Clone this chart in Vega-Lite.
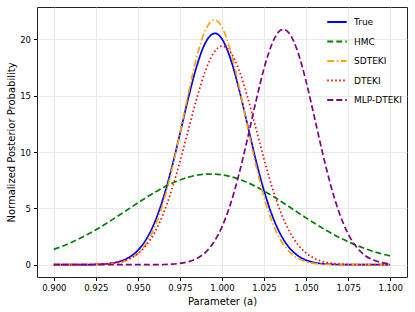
{
"$schema":"https://vega.github.io/schema/vega-lite/v6.json",
"width":370,"height":270,
"autosize":{"type":"none"},
"padding":{"left":37,"top":7,"right":8,"bottom":35},
"config":{"font":"DejaVu Sans","view":{"stroke":"#222","strokeWidth":1},
"axis":{"labelFont":"DejaVu Sans","titleFont":"DejaVu Sans","labelColor":"#000","titleColor":"#000","labelFontSize":8.5,"titleFontSize":10,"titleFontWeight":"normal","tickColor":"#000","domainColor":"#000","tickSize":3.5,"gridColor":"#e3e3e3","gridWidth":0.8}},
"datasets":{"d":[
{"x":0.900,"y":0.0001,"m":"True"},{"x":0.905,"y":0.0004,"m":"True"},{"x":0.910,"y":0.0012,"m":"True"},{"x":0.915,"y":0.0036,"m":"True"},{"x":0.920,"y":0.0101,"m":"True"},{"x":0.925,"y":0.027,"m":"True"},{"x":0.930,"y":0.066,"m":"True"},{"x":0.935,"y":0.154,"m":"True"},{"x":0.940,"y":0.333,"m":"True"},{"x":0.945,"y":0.675,"m":"True"},{"x":0.950,"y":1.280,"m":"True"},{"x":0.955,"y":2.272,"m":"True"},{"x":0.960,"y":3.777,"m":"True"},{"x":0.965,"y":5.871,"m":"True"},{"x":0.970,"y":8.540,"m":"True"},{"x":0.975,"y":11.62,"m":"True"},{"x":0.980,"y":14.80,"m":"True"},{"x":0.985,"y":17.63,"m":"True"},{"x":0.990,"y":19.66,"m":"True"},{"x":0.995,"y":20.51,"m":"True"},{"x":0.996,"y":20.53,"m":"True"},{"x":1.000,"y":20.03,"m":"True"},{"x":1.005,"y":18.30,"m":"True"},{"x":1.010,"y":15.65,"m":"True"},{"x":1.015,"y":12.52,"m":"True"},{"x":1.020,"y":9.370,"m":"True"},{"x":1.025,"y":6.564,"m":"True"},{"x":1.030,"y":4.301,"m":"True"},{"x":1.035,"y":2.638,"m":"True"},{"x":1.040,"y":1.514,"m":"True"},{"x":1.045,"y":0.813,"m":"True"},{"x":1.050,"y":0.409,"m":"True"},{"x":1.055,"y":0.192,"m":"True"},{"x":1.060,"y":0.085,"m":"True"},{"x":1.065,"y":0.035,"m":"True"},{"x":1.070,"y":0.013,"m":"True"},{"x":1.075,"y":0.005,"m":"True"},{"x":1.080,"y":0.0016,"m":"True"},{"x":1.085,"y":0.0005,"m":"True"},{"x":1.090,"y":0.0001,"m":"True"},{"x":1.095,"y":0.0,"m":"True"},{"x":1.100,"y":0.0,"m":"True"},
{"x":0.900,"y":1.358,"m":"HMC"},{"x":0.905,"y":1.635,"m":"HMC"},{"x":0.910,"y":1.949,"m":"HMC"},{"x":0.915,"y":2.300,"m":"HMC"},{"x":0.920,"y":2.685,"m":"HMC"},{"x":0.925,"y":3.104,"m":"HMC"},{"x":0.930,"y":3.551,"m":"HMC"},{"x":0.935,"y":4.022,"m":"HMC"},{"x":0.940,"y":4.507,"m":"HMC"},{"x":0.945,"y":5.001,"m":"HMC"},{"x":0.950,"y":5.492,"m":"HMC"},{"x":0.955,"y":5.970,"m":"HMC"},{"x":0.960,"y":6.423,"m":"HMC"},{"x":0.965,"y":6.840,"m":"HMC"},{"x":0.970,"y":7.209,"m":"HMC"},{"x":0.975,"y":7.522,"m":"HMC"},{"x":0.980,"y":7.768,"m":"HMC"},{"x":0.985,"y":7.940,"m":"HMC"},{"x":0.990,"y":8.033,"m":"HMC"},{"x":0.995,"y":8.045,"m":"HMC"},{"x":1.000,"y":7.974,"m":"HMC"},{"x":1.005,"y":7.824,"m":"HMC"},{"x":1.010,"y":7.598,"m":"HMC"},{"x":1.015,"y":7.303,"m":"HMC"},{"x":1.020,"y":6.948,"m":"HMC"},{"x":1.025,"y":6.544,"m":"HMC"},{"x":1.030,"y":6.099,"m":"HMC"},{"x":1.035,"y":5.628,"m":"HMC"},{"x":1.040,"y":5.139,"m":"HMC"},{"x":1.045,"y":4.646,"m":"HMC"},{"x":1.050,"y":4.156,"m":"HMC"},{"x":1.055,"y":3.680,"m":"HMC"},{"x":1.060,"y":3.226,"m":"HMC"},{"x":1.065,"y":2.799,"m":"HMC"},{"x":1.070,"y":2.404,"m":"HMC"},{"x":1.075,"y":2.044,"m":"HMC"},{"x":1.080,"y":1.719,"m":"HMC"},{"x":1.085,"y":1.432,"m":"HMC"},{"x":1.090,"y":1.180,"m":"HMC"},{"x":1.095,"y":0.963,"m":"HMC"},{"x":1.100,"y":0.778,"m":"HMC"},
{"x":0.900,"y":0.0,"m":"SDTEKI"},{"x":0.905,"y":0.0001,"m":"SDTEKI"},{"x":0.910,"y":0.0004,"m":"SDTEKI"},{"x":0.915,"y":0.0015,"m":"SDTEKI"},{"x":0.920,"y":0.0047,"m":"SDTEKI"},{"x":0.925,"y":0.0138,"m":"SDTEKI"},{"x":0.930,"y":0.0376,"m":"SDTEKI"},{"x":0.935,"y":0.0958,"m":"SDTEKI"},{"x":0.940,"y":0.226,"m":"SDTEKI"},{"x":0.945,"y":0.496,"m":"SDTEKI"},{"x":0.950,"y":1.011,"m":"SDTEKI"},{"x":0.955,"y":1.912,"m":"SDTEKI"},{"x":0.960,"y":3.356,"m":"SDTEKI"},{"x":0.965,"y":5.474,"m":"SDTEKI"},{"x":0.970,"y":8.289,"m":"SDTEKI"},{"x":0.975,"y":11.65,"m":"SDTEKI"},{"x":0.980,"y":15.21,"m":"SDTEKI"},{"x":0.985,"y":18.45,"m":"SDTEKI"},{"x":0.990,"y":20.77,"m":"SDTEKI"},{"x":0.995,"y":21.71,"m":"SDTEKI"},{"x":0.9958,"y":21.72,"m":"SDTEKI"},{"x":1.000,"y":21.08,"m":"SDTEKI"},{"x":1.005,"y":19.00,"m":"SDTEKI"},{"x":1.010,"y":15.91,"m":"SDTEKI"},{"x":1.015,"y":12.37,"m":"SDTEKI"},{"x":1.020,"y":8.925,"m":"SDTEKI"},{"x":1.025,"y":5.984,"m":"SDTEKI"},{"x":1.030,"y":3.723,"m":"SDTEKI"},{"x":1.035,"y":2.152,"m":"SDTEKI"},{"x":1.040,"y":1.155,"m":"SDTEKI"},{"x":1.045,"y":0.576,"m":"SDTEKI"},{"x":1.050,"y":0.266,"m":"SDTEKI"},{"x":1.055,"y":0.114,"m":"SDTEKI"},{"x":1.060,"y":0.046,"m":"SDTEKI"},{"x":1.065,"y":0.017,"m":"SDTEKI"},{"x":1.070,"y":0.006,"m":"SDTEKI"},{"x":1.075,"y":0.0019,"m":"SDTEKI"},{"x":1.080,"y":0.0005,"m":"SDTEKI"},{"x":1.085,"y":0.0001,"m":"SDTEKI"},{"x":1.090,"y":0.0,"m":"SDTEKI"},{"x":1.095,"y":0.0,"m":"SDTEKI"},{"x":1.100,"y":0.0,"m":"SDTEKI"},
{"x":0.900,"y":0.0001,"m":"DTEKI"},{"x":0.905,"y":0.0004,"m":"DTEKI"},{"x":0.910,"y":0.0013,"m":"DTEKI"},{"x":0.915,"y":0.0036,"m":"DTEKI"},{"x":0.920,"y":0.0096,"m":"DTEKI"},{"x":0.925,"y":0.024,"m":"DTEKI"},{"x":0.930,"y":0.057,"m":"DTEKI"},{"x":0.935,"y":0.127,"m":"DTEKI"},{"x":0.940,"y":0.267,"m":"DTEKI"},{"x":0.945,"y":0.528,"m":"DTEKI"},{"x":0.950,"y":0.984,"m":"DTEKI"},{"x":0.955,"y":1.732,"m":"DTEKI"},{"x":0.960,"y":2.868,"m":"DTEKI"},{"x":0.965,"y":4.481,"m":"DTEKI"},{"x":0.970,"y":6.596,"m":"DTEKI"},{"x":0.975,"y":9.153,"m":"DTEKI"},{"x":0.980,"y":11.97,"m":"DTEKI"},{"x":0.985,"y":14.76,"m":"DTEKI"},{"x":0.990,"y":17.15,"m":"DTEKI"},{"x":0.995,"y":18.79,"m":"DTEKI"},{"x":1.000,"y":19.40,"m":"DTEKI"},{"x":1.005,"y":18.88,"m":"DTEKI"},{"x":1.010,"y":17.32,"m":"DTEKI"},{"x":1.015,"y":14.97,"m":"DTEKI"},{"x":1.020,"y":12.20,"m":"DTEKI"},{"x":1.025,"y":9.372,"m":"DTEKI"},{"x":1.030,"y":6.786,"m":"DTEKI"},{"x":1.035,"y":4.631,"m":"DTEKI"},{"x":1.040,"y":2.978,"m":"DTEKI"},{"x":1.045,"y":1.806,"m":"DTEKI"},{"x":1.050,"y":1.032,"m":"DTEKI"},{"x":1.055,"y":0.556,"m":"DTEKI"},{"x":1.060,"y":0.282,"m":"DTEKI"},{"x":1.065,"y":0.135,"m":"DTEKI"},{"x":1.070,"y":0.061,"m":"DTEKI"},{"x":1.075,"y":0.026,"m":"DTEKI"},{"x":1.080,"y":0.0104,"m":"DTEKI"},{"x":1.085,"y":0.0039,"m":"DTEKI"},{"x":1.090,"y":0.0014,"m":"DTEKI"},{"x":1.095,"y":0.0005,"m":"DTEKI"},{"x":1.100,"y":0.0001,"m":"DTEKI"},
{"x":0.900,"y":0.0,"m":"MLP-DTEKI"},{"x":0.905,"y":0.0,"m":"MLP-DTEKI"},{"x":0.910,"y":0.0,"m":"MLP-DTEKI"},{"x":0.915,"y":0.0,"m":"MLP-DTEKI"},{"x":0.920,"y":0.0,"m":"MLP-DTEKI"},{"x":0.925,"y":0.0,"m":"MLP-DTEKI"},{"x":0.930,"y":0.0,"m":"MLP-DTEKI"},{"x":0.935,"y":0.0,"m":"MLP-DTEKI"},{"x":0.940,"y":0.0001,"m":"MLP-DTEKI"},{"x":0.945,"y":0.0002,"m":"MLP-DTEKI"},{"x":0.950,"y":0.0007,"m":"MLP-DTEKI"},{"x":0.955,"y":0.0023,"m":"MLP-DTEKI"},{"x":0.960,"y":0.0069,"m":"MLP-DTEKI"},{"x":0.965,"y":0.0189,"m":"MLP-DTEKI"},{"x":0.970,"y":0.0487,"m":"MLP-DTEKI"},{"x":0.975,"y":0.117,"m":"MLP-DTEKI"},{"x":0.980,"y":0.263,"m":"MLP-DTEKI"},{"x":0.985,"y":0.551,"m":"MLP-DTEKI"},{"x":0.990,"y":1.078,"m":"MLP-DTEKI"},{"x":0.995,"y":1.970,"m":"MLP-DTEKI"},{"x":1.000,"y":3.364,"m":"MLP-DTEKI"},{"x":1.005,"y":5.360,"m":"MLP-DTEKI"},{"x":1.010,"y":7.976,"m":"MLP-DTEKI"},{"x":1.015,"y":11.08,"m":"MLP-DTEKI"},{"x":1.020,"y":14.38,"m":"MLP-DTEKI"},{"x":1.025,"y":17.42,"m":"MLP-DTEKI"},{"x":1.030,"y":19.70,"m":"MLP-DTEKI"},{"x":1.035,"y":20.82,"m":"MLP-DTEKI"},{"x":1.0365,"y":20.88,"m":"MLP-DTEKI"},{"x":1.040,"y":20.53,"m":"MLP-DTEKI"},{"x":1.045,"y":18.91,"m":"MLP-DTEKI"},{"x":1.050,"y":16.27,"m":"MLP-DTEKI"},{"x":1.055,"y":13.06,"m":"MLP-DTEKI"},{"x":1.060,"y":9.795,"m":"MLP-DTEKI"},{"x":1.065,"y":6.859,"m":"MLP-DTEKI"},{"x":1.070,"y":4.485,"m":"MLP-DTEKI"},{"x":1.075,"y":2.737,"m":"MLP-DTEKI"},{"x":1.080,"y":1.561,"m":"MLP-DTEKI"},{"x":1.085,"y":0.831,"m":"MLP-DTEKI"},{"x":1.090,"y":0.413,"m":"MLP-DTEKI"},{"x":1.095,"y":0.192,"m":"MLP-DTEKI"},{"x":1.100,"y":0.083,"m":"MLP-DTEKI"}
]},
"data":{"name":"d"},
"mark":{"type":"line","interpolate":"monotone","strokeWidth":1.7},
"encoding":{
"x":{"field":"x","type":"quantitative","title":"Parameter (a)","scale":{"domain":[0.89,1.11],"nice":false,"zero":false},
"axis":{"values":[0.9,0.925,0.95,0.975,1.0,1.025,1.05,1.075,1.1],"format":".3f","labelPadding":3,"titlePadding":4,"domain":false}},
"y":{"field":"y","type":"quantitative","title":"Normalized Posterior Probability","scale":{"domain":[-1.09,22.87],"nice":false,"zero":false},
"axis":{"values":[0,5,10,15,20],"labelPadding":3,"titlePadding":3,"domain":false}},
"color":{"field":"m","type":"nominal","title":null,
"scale":{"domain":["True","HMC","SDTEKI","DTEKI","MLP-DTEKI"],"range":["#0000ff","#008000","#ffa500","#ff0000","#800080"]},
"legend":{"orient":"none","legendX":289,"legendY":4,"symbolType":"stroke","symbolSize":380,"symbolStrokeWidth":1.8,"labelFontSize":9,"labelFont":"DejaVu Sans","labelColor":"#000","rowPadding":3.5,"labelOffset":6}},
"strokeDash":{"field":"m","type":"nominal","title":null,
"scale":{"domain":["True","HMC","SDTEKI","DTEKI","MLP-DTEKI"],"range":[[1,0],[6,3],[7,2.5,1.5,2.5],[1.5,2.5],[6,3]]}},
"strokeWidth":{"condition":{"test":"datum.m==='True'","value":2.3},"value":1.7},
"order":{"field":"x","type":"quantitative"}
}
}
